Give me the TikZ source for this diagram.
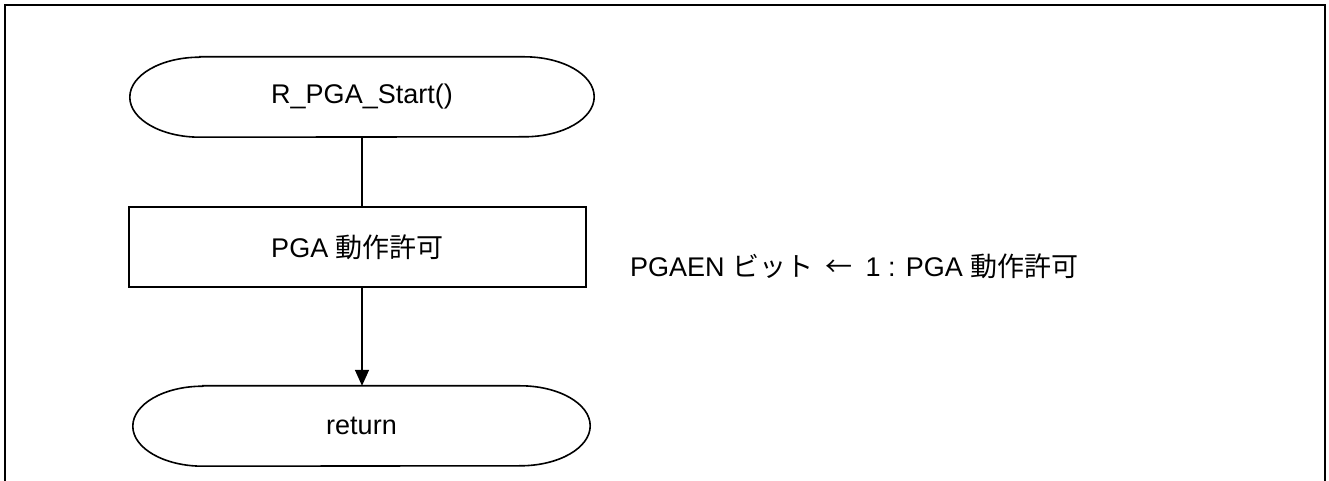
\documentclass[tikz,border=0pt]{standalone}
\usepackage{fontspec}
\setmainfont{Liberation Sans}
\newfontfamily\jp{Noto Sans CJK JP}
\usetikzlibrary{arrows.meta}
\tikzset{
  line/.style={draw=black, line width=1.6pt},
  txt/.style={font=\fontsize{27}{32}\selectfont, inner sep=0pt},
  termnode/.style={txt, minimum height=80pt},
  procbox/.style={txt, line, rectangle, minimum height=80pt},
  flow/.style={line, -{Triangle[length=16pt,width=14pt]}},
}
\newcommand{\termoutline}[1]{%
  \draw[line] ([xshift=70pt]#1.north west) -- ([xshift=-70pt]#1.north east)
    arc[start angle=90,end angle=-90,x radius=70pt,y radius=40pt]
    -- ([xshift=70pt]#1.south west)
    arc[start angle=270,end angle=90,x radius=70pt,y radius=40pt] -- cycle;}
\begin{document}
\begin{tikzpicture}[x=1pt,y=1pt]
\useasboundingbox (0,0) rectangle (1329,481);
% frame
\draw[line width=2.2pt] (5,-2) -- (5,476) -- (1325,476) -- (1325,-2);
% nodes
\node[termnode, minimum width=464pt] (start) at (362,384) {R\_PGA\_Start()};
\termoutline{start}
\node[procbox, minimum width=457pt] (pga) at (357.5,234) {PGA {\jp 動作許可}};
\node[termnode, minimum width=457pt] (ret) at (361.5,55) {return};
\termoutline{ret}
\node[txt, anchor=west] (note) at (630,215) {PGAEN {\jp ビット}\hspace{12pt}{\jp ←}\hspace{6pt} 1 : PGA {\jp 動作許可}};
% connectors
\coordinate (c1) at (362,0);
\draw[line] (start.south -| c1) -- (pga.north -| c1);
\draw[flow] (pga.south -| c1) -- (ret.north -| c1);
\end{tikzpicture}
\end{document}
